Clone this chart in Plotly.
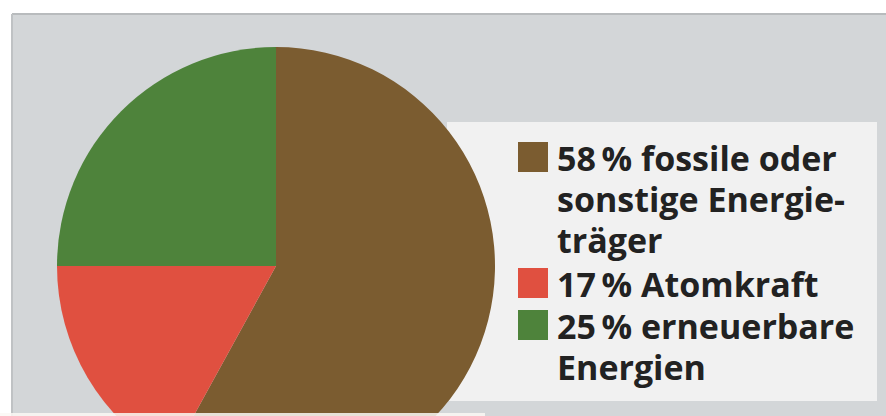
import plotly.graph_objects as go

# Shares of the energy mix
labels = ["fossile oder sonstige Energieträger", "Atomkraft", "erneuerbare Energien"]
values = [58, 17, 25]
colors = ["#7b5c30", "#e05040", "#4e833b"]
# Legend text, wrapped as printed; first line of each entry carries the share
legend_lines = [
    ["fossile oder", "sonstige Energie-", "träger"],
    ["Atomkraft"],
    ["erneuerbare", "Energien"],
]

W, H = 886, 500  # figure taller than the window; the lower part of the pie is cut off


def px(x):
    return x / W


def py(y):
    return (H - y) / H


fig = go.Figure()

# pie centred at (276, 266) px with radius 219 px
cx, cy, r = 276, 266, 219
fig.add_trace(go.Pie(
    labels=labels,
    values=values,
    marker=dict(colors=colors, line=dict(width=0)),
    sort=False,
    direction="clockwise",
    rotation=0,
    textinfo="none",
    hoverinfo="label+percent",
    showlegend=False,
    domain=dict(x=[px(cx - r), px(cx + r)], y=[py(cy + r), py(cy - r)]),
))

shapes = [
    # grey panel
    dict(type="rect", xref="paper", yref="paper", x0=px(12), x1=px(886), y0=py(500), y1=py(14),
         fillcolor="#d3d6d8", line=dict(width=0), layer="below"),
    # panel edges (top and left only)
    dict(type="line", xref="paper", yref="paper", x0=px(12), x1=px(886), y0=py(14), y1=py(14),
         line=dict(color="#b8bbbd", width=2), layer="below"),
    dict(type="line", xref="paper", yref="paper", x0=px(12), x1=px(12), y0=py(500), y1=py(14),
         line=dict(color="#bfc2c4", width=2), layer="below"),
    # legend box
    dict(type="rect", xref="paper", yref="paper", x0=px(447), x1=px(877), y0=py(401), y1=py(122),
         fillcolor="#f1f1f1", line=dict(width=0), layer="below"),
    # pale strip along the bottom
    dict(type="rect", xref="paper", yref="paper", x0=px(0), x1=px(485), y0=py(500), y1=py(413),
         fillcolor="rgba(250,248,244,0.85)", line=dict(width=0), layer="above"),
]

annotations = []
square_centres = [157, 283, 325]
line_step = 41
font = dict(family="Open Sans", size=34, color="#222222")
for i, (v, lines, c) in enumerate(zip(values, legend_lines, colors)):
    yc = square_centres[i]
    shapes.append(dict(type="rect", xref="paper", yref="paper",
                       x0=px(518), x1=px(548), y0=py(yc + 15), y1=py(yc - 15),
                       fillcolor=c, line=dict(width=0), layer="above"))
    for j, t in enumerate(lines):
        text = f"<b>{v}\u2009% {t}</b>" if j == 0 else f"<b>{t}</b>"
        annotations.append(dict(x=px(555), y=py(yc + 1 + j * line_step), xref="paper", yref="paper",
                                text=text, showarrow=False, xanchor="left", yanchor="middle",
                                font=font))

fig.update_layout(
    width=W, height=H,
    margin=dict(l=0, r=0, t=0, b=0),
    paper_bgcolor="#ffffff",
    plot_bgcolor="#ffffff",
    shapes=shapes,
    annotations=annotations,
    showlegend=False,
)

fig.write_html(
    "out.html",
    config={"displayModeBar": False},
    post_script="document.body.style.overflow='hidden';document.documentElement.style.overflow='hidden';",
)
